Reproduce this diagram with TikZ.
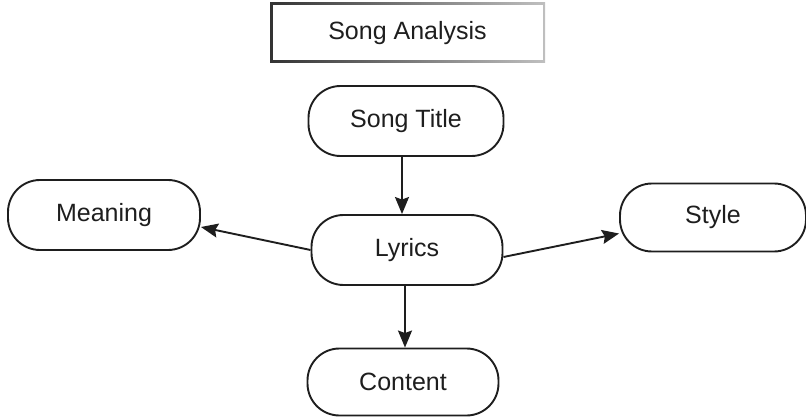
\documentclass[tikz,border=0pt]{standalone}
\usepackage{fontspec}
\setmainfont{Liberation Sans}
\usetikzlibrary{arrows.meta}
\definecolor{ink}{HTML}{1E1E1E}
\tikzset{
  bubble/.style={draw=ink, line width=1.9pt, rounded corners=32pt, fill=white,
    minimum height=70pt, text=ink, font=\fontsize{25}{30}\selectfont},
  arr/.style={draw=ink, line width=1.9pt, -{Stealth[length=17pt,width=14pt,inset=2.5pt]}}
}
\begin{document}
\begin{tikzpicture}[x=1pt,y=-1pt]
\useasboundingbox (0,0) rectangle (806,417);
% title box with shaded frame
\shade[left color=black!80, right color=black!25] (270,3) rectangle (545,63);
\node[fill=white, minimum width=270pt, minimum height=55pt, inner sep=0pt,
  text=ink, font=\fontsize{25}{30}\selectfont] (ta) at (407.5,33) {Song Analysis};
% nodes
\node[bubble, minimum width=195pt] (st) at (406,121) {Song Title};
\node[bubble, minimum width=191pt] (ly) at (407,250) {Lyrics};
\node[bubble, minimum width=192pt] (me) at (104,215) {Meaning};
\node[bubble, minimum width=186pt, minimum height=68pt] (sy) at (713,217.5) {Style};
\node[bubble, minimum width=191pt, minimum height=67pt] (co) at (403,382) {Content};
% connectors
\draw[arr] ([xshift=-4pt]st.south) -- ([xshift=-5pt]ly.north);
\draw[arr] (ly.west) -- ([yshift=-12pt]me.east);
\draw[arr] ([yshift=-7pt]ly.east) -- ([yshift=-16pt]sy.west);
\draw[arr] ([xshift=-2pt]ly.south) -- ([xshift=2pt]co.north);
\end{tikzpicture}
\end{document}
